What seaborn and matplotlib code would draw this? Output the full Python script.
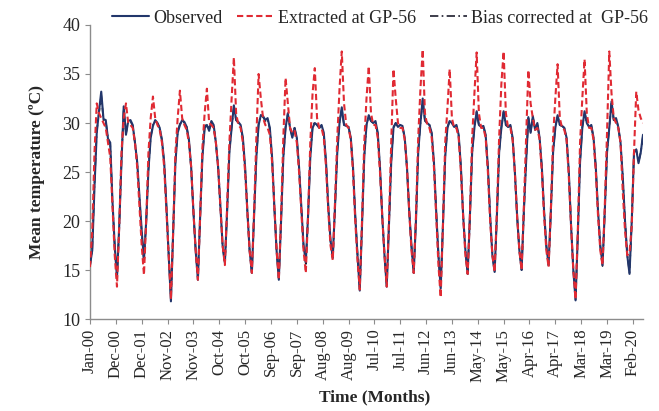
import numpy as np
import pandas as pd
import matplotlib
matplotlib.use("Agg")
import matplotlib.pyplot as plt
import seaborn as sns

# ---------------- data (monthly, Jan-2000 .. Jul-2020) ----------------
observed_rows = [
    [15.5, 17.0, 23.5, 29.0, 31.2, 33.2, 30.4, 30.3, 28.4, 28.0, 22.0, 17.5],  # 2000
    [14.2, 19.5, 26.0, 31.7, 28.8, 30.2, 30.3, 29.8, 28.0, 26.0, 22.5, 19.0],  # 2001
    [16.0, 20.0, 25.2, 28.5, 29.7, 30.3, 30.0, 29.5, 28.3, 26.0, 21.5, 16.5],  # 2002
    [11.8, 19.0, 26.0, 29.0, 29.8, 30.3, 30.1, 29.6, 28.3, 25.5, 21.0, 17.0],  # 2003
    [14.0, 20.5, 26.5, 29.5, 29.8, 29.2, 30.2, 29.8, 28.0, 25.5, 21.5, 17.5],  # 2004
    [15.7, 21.0, 27.0, 29.5, 31.8, 30.3, 30.1, 29.8, 28.5, 25.5, 21.0, 17.0],  # 2005
    [14.7, 20.5, 26.5, 29.8, 30.8, 30.7, 30.3, 30.5, 29.5, 26.5, 21.5, 17.0],  # 2006
    [14.0, 20.0, 26.5, 29.5, 31.0, 29.5, 28.5, 29.5, 28.5, 25.5, 21.5, 17.5],  # 2007
    [15.8, 20.5, 26.5, 29.5, 30.0, 29.8, 29.5, 29.8, 29.0, 26.0, 21.5, 18.0],  # 2008
    [16.3, 21.5, 27.0, 30.0, 31.6, 29.8, 29.7, 29.6, 28.5, 25.5, 20.5, 16.5],  # 2009
    [12.9, 19.5, 26.5, 29.8, 30.8, 30.2, 30.0, 30.2, 29.0, 25.5, 20.5, 16.5],  # 2010
    [13.3, 19.5, 26.0, 29.5, 30.0, 29.6, 29.8, 29.7, 28.5, 25.5, 21.0, 17.5],  # 2011
    [14.7, 20.0, 27.0, 30.0, 32.5, 30.3, 30.0, 29.8, 29.0, 26.0, 21.0, 16.5],  # 2012
    [13.1, 19.5, 26.5, 29.5, 30.2, 30.0, 29.6, 29.8, 28.8, 25.5, 20.5, 17.0],  # 2013
    [14.6, 20.5, 27.0, 29.5, 31.2, 29.8, 29.6, 29.7, 28.8, 25.5, 20.5, 16.5],  # 2014
    [14.8, 20.5, 27.0, 29.5, 31.2, 29.8, 29.6, 29.8, 28.5, 25.0, 20.5, 17.0],  # 2015
    [15.0, 21.0, 26.0, 30.6, 29.0, 30.7, 29.3, 30.0, 28.5, 25.5, 21.0, 17.5],  # 2016
    [15.5, 21.0, 27.0, 29.5, 30.8, 29.8, 29.7, 29.5, 28.5, 25.0, 19.5, 15.0],  # 2017
    [11.9, 18.5, 26.0, 29.5, 31.2, 30.0, 29.6, 29.8, 28.5, 25.5, 21.0, 17.5],  # 2018
    [15.5, 21.0, 27.0, 29.5, 32.2, 30.3, 30.5, 29.6, 28.0, 24.5, 20.0, 16.5],  # 2019
    [14.6, 20.0, 27.0, 27.3, 25.9, 27.0, 28.8],                                # 2020
]

extracted_rows = [
    [15.3, 19.0, 27.0, 32.0, 31.0, 30.5, 30.0, 29.5, 28.0, 26.5, 21.5, 16.5],
    [13.3, 19.5, 27.0, 30.5, 32.0, 30.0, 29.8, 29.5, 28.0, 25.5, 21.5, 17.5],
    [14.5, 20.0, 27.0, 30.5, 32.7, 30.5, 29.8, 29.3, 28.0, 25.5, 21.0, 16.5],
    [12.0, 19.0, 27.0, 30.5, 33.3, 30.5, 29.8, 29.3, 28.0, 25.5, 21.0, 17.0],
    [14.0, 20.5, 27.5, 31.0, 33.5, 30.0, 29.8, 29.5, 28.0, 25.5, 21.5, 17.5],
    [15.5, 21.5, 28.0, 32.5, 36.7, 31.0, 29.8, 29.5, 28.0, 25.0, 21.0, 17.0],
    [14.7, 21.0, 28.5, 35.0, 32.5, 30.5, 29.8, 29.5, 28.8, 26.0, 21.5, 17.0],
    [14.0, 20.5, 28.5, 34.6, 32.0, 29.5, 29.0, 29.2, 28.0, 25.0, 21.0, 17.0],
    [14.7, 20.5, 28.0, 33.0, 35.6, 30.5, 29.5, 29.5, 28.5, 25.5, 21.0, 17.5],
    [16.0, 22.0, 28.5, 33.5, 37.3, 32.0, 29.8, 29.5, 28.3, 25.0, 20.0, 16.0],
    [13.0, 20.0, 28.0, 32.5, 35.8, 31.0, 29.8, 29.8, 28.5, 25.0, 20.5, 16.5],
    [13.3, 20.0, 28.0, 35.5, 32.5, 30.0, 29.5, 29.5, 28.3, 25.5, 21.0, 17.0],
    [14.7, 20.5, 28.5, 33.5, 37.5, 31.0, 29.8, 29.5, 28.5, 25.5, 20.5, 15.5],
    [12.2, 19.5, 28.0, 31.5, 35.5, 30.5, 29.5, 29.5, 28.5, 25.0, 20.5, 16.5],
    [14.6, 20.5, 28.5, 33.0, 37.2, 31.0, 29.5, 29.5, 28.5, 25.0, 20.0, 16.5],
    [14.8, 21.0, 28.5, 34.0, 37.3, 31.0, 29.5, 29.5, 28.3, 25.0, 20.5, 17.0],
    [15.0, 21.5, 28.5, 35.4, 32.0, 30.5, 29.3, 29.5, 28.3, 25.0, 20.5, 17.0],
    [15.3, 21.0, 28.5, 32.5, 36.0, 30.5, 29.5, 29.3, 28.3, 24.5, 19.5, 15.0],
    [12.0, 19.0, 28.0, 32.5, 36.5, 31.0, 29.5, 29.5, 28.3, 25.0, 20.5, 17.0],
    [15.5, 21.5, 29.0, 37.3, 33.0, 30.5, 30.0, 29.5, 28.0, 23.0, 19.0, 16.5],
    [16.8, 19.5, 27.0, 33.2, 31.3, 30.5, 30.0],
]

bias_corrected_rows = [
    [15.4, 17.2, 23.8, 29.2, 31.0, 32.8, 30.3, 30.2, 28.4, 27.8, 21.9, 17.4],
    [14.1, 19.4, 26.1, 31.4, 28.9, 30.2, 30.2, 29.7, 28.0, 25.9, 22.3, 18.8],
    [15.8, 19.9, 25.3, 28.6, 29.8, 30.2, 30.0, 29.5, 28.2, 25.9, 21.4, 16.6],
    [12.0, 19.1, 26.1, 29.1, 29.9, 30.2, 30.0, 29.6, 28.2, 25.4, 21.0, 17.1],
    [14.1, 20.4, 26.6, 29.6, 29.9, 29.3, 30.1, 29.7, 28.0, 25.4, 21.4, 17.4],
    [15.6, 21.0, 27.1, 29.6, 31.6, 30.3, 30.0, 29.7, 28.4, 25.4, 21.0, 17.0],
    [14.7, 20.6, 26.6, 29.9, 30.8, 30.6, 30.2, 30.4, 29.4, 26.4, 21.4, 17.0],
    [14.1, 20.1, 26.6, 29.6, 30.9, 29.5, 28.6, 29.5, 28.4, 25.4, 21.4, 17.4],
    [15.6, 20.5, 26.6, 29.6, 30.1, 29.8, 29.5, 29.7, 28.9, 25.9, 21.4, 17.9],
    [16.1, 21.4, 27.1, 30.1, 31.4, 29.8, 29.7, 29.6, 28.4, 25.4, 20.5, 16.6],
    [13.0, 19.6, 26.6, 29.8, 30.7, 30.2, 30.0, 30.1, 28.9, 25.4, 20.5, 16.6],
    [13.4, 19.6, 26.1, 29.6, 30.0, 29.6, 29.8, 29.7, 28.4, 25.4, 21.0, 17.4],
    [14.7, 20.1, 27.1, 30.0, 32.3, 30.2, 30.0, 29.8, 28.9, 25.9, 21.0, 16.6],
    [13.2, 19.6, 26.6, 29.6, 30.2, 30.0, 29.6, 29.7, 28.7, 25.4, 20.5, 17.0],
    [14.6, 20.4, 27.0, 29.6, 31.1, 29.8, 29.6, 29.7, 28.7, 25.4, 20.5, 16.6],
    [14.8, 20.5, 27.0, 29.6, 31.1, 29.8, 29.6, 29.7, 28.4, 25.0, 20.5, 17.0],
    [15.0, 20.9, 26.1, 30.5, 29.1, 30.6, 29.4, 29.9, 28.4, 25.4, 21.0, 17.4],
    [15.4, 20.9, 27.0, 29.6, 30.7, 29.8, 29.7, 29.5, 28.4, 25.0, 19.6, 15.1],
    [12.0, 18.6, 26.1, 29.6, 31.1, 30.0, 29.6, 29.7, 28.4, 25.4, 21.0, 17.4],
    [15.4, 21.0, 27.0, 29.6, 32.0, 30.3, 30.4, 29.6, 28.0, 24.5, 20.0, 16.6],
    [14.7, 20.0, 27.0, 27.3, 26.0, 27.0, 28.7],
]

tick_labels = ["Jan-00", "Dec-00", "Dec-01", "Nov-02", "Nov-03", "Oct-04", "Oct-05",
               "Sep-06", "Sep-07", "Aug-08", "Aug-09", "Jul-10", "Jul-11", "Jun-12",
               "Jun-13", "May-14", "May-15", "Apr-16", "Apr-17", "Mar-18", "Mar-19",
               "Feb-20"]
tick_step_months = 11.5

series_names = ["Observed", "Extracted at GP-56", "Bias corrected at  GP-56"]

observed = [v for r in observed_rows for v in r]
extracted = [v for r in extracted_rows for v in r]
bias_corrected = [v for r in bias_corrected_rows for v in r]
month_index = np.arange(len(observed))

df = pd.DataFrame({"month": month_index, "obs": observed,
                   "ext": extracted, "bias": bias_corrected})

# ---------------- figure ----------------
sns.set_theme(style="white")
plt.rcParams["font.family"] = ["Liberation Serif", "DejaVu Serif"]

fig = plt.figure(figsize=(6.59, 4.11), dpi=100)
ax = fig.add_axes([90 / 659, 1 - 319 / 411, (643 - 90) / 659, (319 - 25) / 411])

navy = "#22366b"
red = "#e02a33"

sns.lineplot(data=df, x="month", y="bias", ax=ax, color="#1c1c2c", lw=1.2,
             linestyle=(0, (5, 2, 1, 2)), label=series_names[2], zorder=2)
sns.lineplot(data=df, x="month", y="obs", ax=ax, color=navy, lw=1.5,
             label=series_names[0], zorder=3)
sns.lineplot(data=df, x="month", y="ext", ax=ax, color=red, lw=1.5,
             linestyle=(0, (3, 1.6)), label=series_names[1], zorder=4)

ax.set_xlim(0, len(observed) - 1)
ax.set_ylim(10, 40)
ax.set_yticks([10, 15, 20, 25, 30, 35, 40])
ticks = np.arange(len(tick_labels)) * tick_step_months
ax.set_xticks(ticks)
ax.set_xticklabels(tick_labels, rotation=90, fontsize=12)
ax.tick_params(axis="y", labelsize=13)
ax.tick_params(axis="both", which="both", direction="out", length=3.5,
               width=0.8, color="#8c8c8c", pad=3.5, bottom=True, left=True)

for s in ["top", "right"]:
    ax.spines[s].set_visible(False)
for s in ["left", "bottom"]:
    ax.spines[s].set_color("#8c8c8c")
    ax.spines[s].set_linewidth(1.0)

ax.set_xlabel("Time (Months)", fontsize=12.5, fontweight="bold")
ax.set_ylabel("Mean temperature (ºC)", fontsize=12.5, fontweight="bold")
ax.xaxis.set_label_coords(0.514, -0.238)
ax.yaxis.set_label_coords(-0.081, 0.5)

handles, labels = ax.get_legend_handles_labels()
order = [labels.index(n) for n in series_names]
ax.get_legend().remove()
fig.legend([handles[i] for i in order], [labels[i] for i in order],
           loc="center", bbox_to_anchor=(0.577, 0.956), ncol=3, frameon=False,
           fontsize=13, handlelength=2.05, handletextpad=0.25, columnspacing=0.75,
           borderpad=0.2, borderaxespad=0.0)

fig.savefig("out.png", dpi=100)
